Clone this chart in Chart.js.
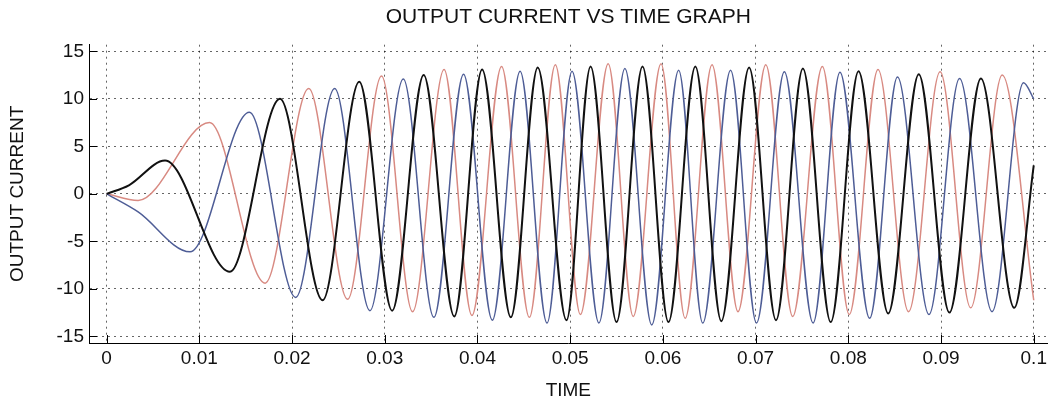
<!DOCTYPE html>
<html><head><meta charset="utf-8">
<script src="https://cdn.jsdelivr.net/npm/chart.js@4.4.1/dist/chart.umd.min.js"></script>
<style>html,body{margin:0;padding:0;background:#fff;}canvas{display:block;}</style>
</head><body>
<canvas id="c" width="1051" height="400"></canvas>
<script>
const chartTitle = 'OUTPUT CURRENT VS TIME GRAPH';
const xAxisTitle = 'TIME';
const yAxisTitle = 'OUTPUT CURRENT';
const xTickValues = [0, 0.01, 0.02, 0.03, 0.04, 0.05, 0.06, 0.07, 0.08, 0.09, 0.1];
const xTickLabels = ['0', '0.01', '0.02', '0.03', '0.04', '0.05', '0.06', '0.07', '0.08', '0.09', '0.1'];
const yTickValues = [-15, -10, -5, 0, 5, 10, 15];
const yTickLabels = ['-15', '-10', '-5', '0', '5', '10', '15'];

// phase A (black)
const timeBlack = [0, 0.0024, 0.0063, 0.0133, 0.0187, 0.0233, 0.02725, 0.0308, 0.0342, 0.0375, 0.0405, 0.0436, 0.0465, 0.0496, 0.0522, 0.0550, 0.0578, 0.0606, 0.0635, 0.0663, 0.0693, 0.0722, 0.0751, 0.0781, 0.0811, 0.0843, 0.0876, 0.0909, 0.0943, 0.0979, 0.1];
const currentBlack = [0, 0.9, 3.5, -8.2, 10.0, -11.2, 11.8, -12.3, 12.5, -12.9, 13.1, -13.0, 13.3, -13.3, 13.4, -13.5, 13.4, -13.5, 13.4, -13.4, 13.3, -13.3, 13.2, -13.5, 12.9, -12.6, 12.6, -12.5, 12.15, -12.0, 3.0];
// phase B (blue)
const timeBlue = [0, 0.0034, 0.0090, 0.0154, 0.0204, 0.0246, 0.0284, 0.0320, 0.0353, 0.0385, 0.0416, 0.0446, 0.0475, 0.0502, 0.0531, 0.0559, 0.0588, 0.0617, 0.0643, 0.0673, 0.0701, 0.0731, 0.0762, 0.0791, 0.0823, 0.0853, 0.0887, 0.0920, 0.0955, 0.0989, 0.1];
const currentBlue = [0, -1.9, -6.1, 8.6, -10.9, 11.1, -12.3, 12.1, -13.0, 12.6, -13.3, 12.9, -13.6, 12.9, -13.6, 13.2, -13.8, 13.0, -13.6, 13.0, -13.6, 12.85, -13.6, 12.8, -13.1, 12.3, -12.7, 12.15, -12.4, 11.7, 10.0];
// phase C (red)
const timeRed = [0, 0.0034, 0.0111, 0.0171, 0.0218, 0.0260, 0.02965, 0.0330, 0.0364, 0.0394, 0.0426, 0.0456, 0.0484, 0.0511, 0.0541, 0.0568, 0.0598, 0.0624, 0.0653, 0.0681, 0.0711, 0.0740, 0.0772, 0.0801, 0.0832, 0.0865, 0.0899, 0.0932, 0.0966, 0.1];
const currentRed = [0, -0.7, 7.5, -9.4, 11.1, -11.1, 12.4, -12.4, 13.1, -12.8, 13.4, -13.0, 13.6, -12.7, 13.7, -12.9, 13.7, -13.1, 13.6, -12.4, 13.6, -12.9, 13.4, -12.7, 13.1, -12.4, 12.85, -12.0, 12.5, -11.2];

const toPoints = (ts, vs) => ts.map((t, i) => ({x: t, y: vs[i]}));
const FONT = "'Liberation Sans', Arial, sans-serif";

const innerTicks = {
  id: 'innerTicks',
  afterDraw(chart) {
    const {ctx, chartArea, scales} = chart;
    ctx.save();
    ctx.strokeStyle = '#000';
    ctx.lineWidth = 1;
    ctx.beginPath();
    xTickValues.forEach(v => {
      const px = Math.round(scales.x.getPixelForValue(v)) + 0.5;
      ctx.moveTo(px, chartArea.bottom);
      ctx.lineTo(px, chartArea.bottom - 8);
    });
    yTickValues.forEach(v => {
      const py = Math.round(scales.y.getPixelForValue(v)) + 0.5;
      ctx.moveTo(chartArea.left, py);
      ctx.lineTo(chartArea.left + 8, py);
    });
    ctx.stroke();
    ctx.restore();
  }
};

new Chart(document.getElementById('c'), {
  type: 'line',
  data: {
    datasets: [
      {data: toPoints(timeBlack, currentBlack), borderColor: '#111111', borderWidth: 2},
      {data: toPoints(timeBlue, currentBlue), borderColor: '#4e5d96', borderWidth: 1.5},
      {data: toPoints(timeRed, currentRed), borderColor: '#d88a82', borderWidth: 1.5}
    ]
  },
  options: {
    responsive: false,
    animation: false,
    devicePixelRatio: 1,
    layout: {padding: 0},
    elements: {
      point: {radius: 0},
      line: {cubicInterpolationMode: 'monotone', fill: false}
    },
    plugins: {
      legend: {display: false},
      tooltip: {enabled: false},
      title: {
        display: true, text: chartTitle, fullSize: false, color: '#111',
        font: {family: FONT, size: 21, weight: 'normal', lineHeight: 1.2},
        padding: {top: 5, bottom: 14.5}
      }
    },
    scales: {
      x: {
        type: 'linear', min: -0.0019, max: 0.1015,
        afterBuildTicks: s => { s.ticks = xTickValues.map(v => ({value: v})); },
        afterFit: s => { s.height = 57; },
        grid: {color: 'rgba(0,0,0,0.6)', lineWidth: 1, drawTicks: false},
        border: {display: true, color: '#000', width: 1, dash: [2, 4]},
        ticks: {
          color: '#111', padding: 4, maxRotation: 0, autoSkip: false,
          font: {family: FONT, size: 19},
          callback: (v, i) => xTickLabels[i]
        },
        title: {display: true, text: xAxisTitle, color: '#111',
          font: {family: FONT, size: 19, lineHeight: 1}, padding: {top: 0, bottom: 0}}
      },
      y: {
        type: 'linear', min: -15.7, max: 15.7,
        afterBuildTicks: s => { s.ticks = yTickValues.map(v => ({value: v})); },
        afterFit: s => { s.width = 89; },
        grid: {color: 'rgba(0,0,0,0.6)', lineWidth: 1, drawTicks: false},
        border: {display: true, color: '#000', width: 1, dash: [2, 4]},
        ticks: {
          color: '#111', padding: 5, autoSkip: false,
          font: {family: FONT, size: 19},
          callback: (v, i) => yTickLabels[i]
        },
        title: {display: true, text: yAxisTitle, color: '#111',
          font: {family: FONT, size: 19, lineHeight: 1}, padding: {top: 8.5, bottom: 0}}
      }
    }
  },
  plugins: [innerTicks]
});
</script>
</body></html>
